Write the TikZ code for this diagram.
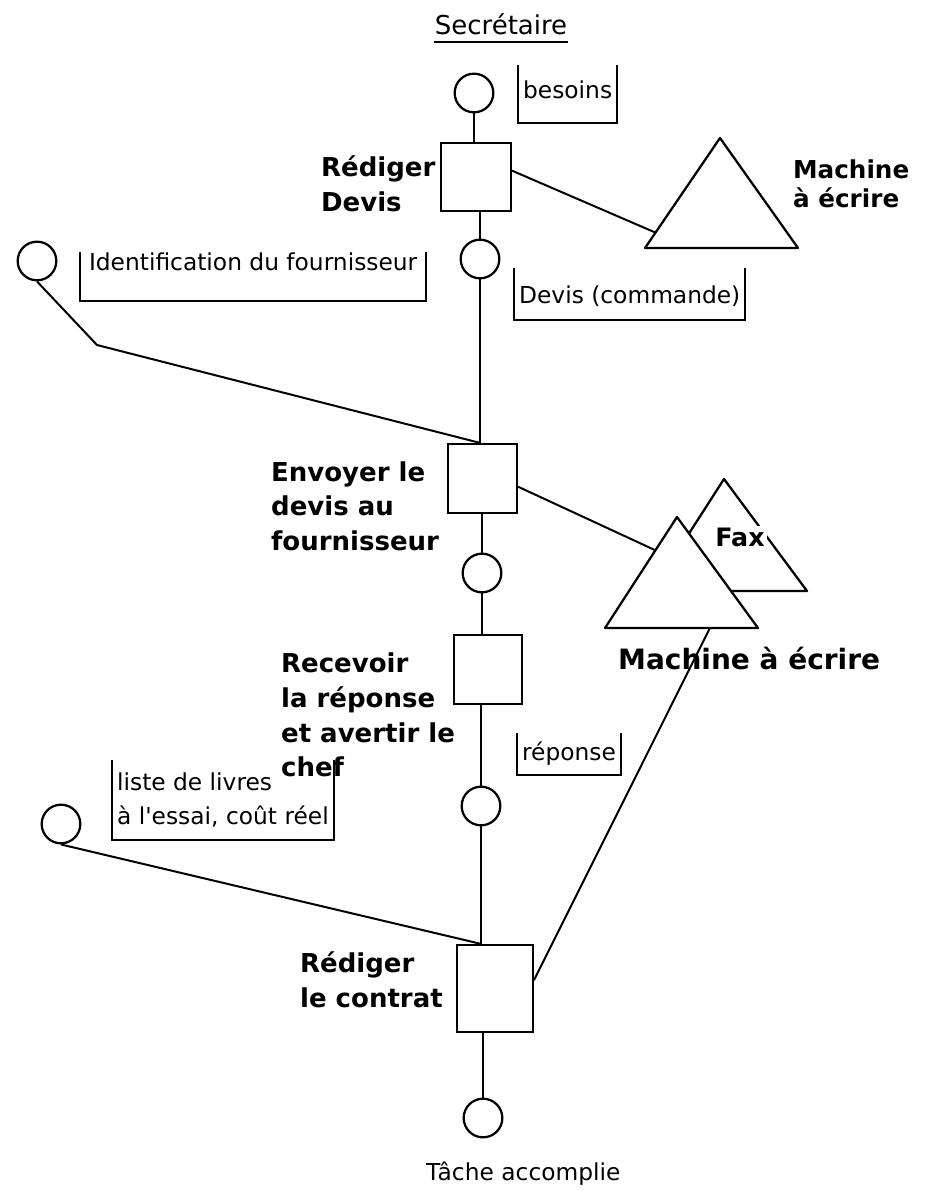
\documentclass[tikz,border=0pt]{standalone}
\usepackage{fontspec}
\setmainfont{DejaVu Sans}
\usetikzlibrary{calc}

\begin{document}
\begin{tikzpicture}[x=0.75pt, y=-0.75pt, line width=1.7pt,
  place/.style={circle, draw, minimum size=29pt, inner sep=0pt},
  task/.style={rectangle, draw, inner sep=0pt},
  tasklbl/.style={font=\fontsize{19.5}{26}\selectfont\bfseries, align=left, anchor=west, inner sep=0pt},
  tag/.style={font=\fontsize{17.5}{25}\selectfont, anchor=north west, inner xsep=3pt, inner ysep=0pt},
  link/.style={line width=1.5pt},
  tri/.style={line width=1.7pt, line join=round},
]
\useasboundingbox (0,0) rectangle (928,1191);

% title
\node[font=\fontsize{19.5}{22}\selectfont, inner sep=0pt] (titre) at (501,24) {Secrétaire};
\draw[line width=1.4pt] ([yshift=-5pt]titre.south west) -- ([yshift=-5pt]titre.south east);

% main column: places and tasks
\node[place] (c1) at (474,93) {};
\node[task, minimum width=52.3pt, minimum height=50.7pt] (b1) at (476,177) {};
\node[place] (c2) at (480,259) {};
\node[task, minimum width=51.7pt, minimum height=51.7pt] (b2) at (482.5,478.5) {};
\node[place] (c3) at (482,573) {};
\node[task, minimum width=51.2pt, minimum height=51.7pt] (b3) at (488,669.5) {};
\node[place] (c4) at (481,806) {};
\node[task, minimum width=56.7pt, minimum height=65.2pt] (b4) at (495,988.5) {};
\node[place] (c5) at (483,1118) {};

\node[tasklbl] (l1) at (320,184) {Rédiger\\Devis};
\node[tasklbl] (l2) at (270,506) {Envoyer le\\devis au\\fournisseur};
\node[tasklbl] (l3) at (280,715) {Recevoir\\la réponse\\et avertir le\\chef};
\node[tasklbl] (l4) at (299,980) {Rédiger\\le contrat};
\node[font=\fontsize{17.5}{20}\selectfont, anchor=west, inner sep=0pt] (fin) at (425,1174) {Tâche accomplie};

\foreach \c/\b in {c1/b1,c2/b2,c3/b3,c4/b4}
  \draw[link] (\c) -- (\c |- \b.north);
\foreach \b/\c in {b1/c2,b2/c3,b3/c4,b4/c5}
  \draw[link] (\c |- \b.south) -- (\c);

% data tags
\node[tag, text height=24pt, text depth=18pt] (tbes) at (518,65) {besoins};
\node[tag, text height=13pt, text depth=21.75pt, minimum width=258pt] (tid) at (80,252) {Identification du fournisseur};
\node[tag, text height=25.5pt, text depth=12pt] (tdev) at (514,268) {Devis (commande)};
\node[tag, text height=20pt, text depth=9.75pt] (trep) at (517,733) {réponse};
\node[tag, align=left, inner ysep=9pt] (tliv) at (112,760) {liste de livres\\à l\textquotesingle essai, coût réel};

\foreach \n in {tbes,tid,tdev,trep,tliv}
  \draw[link] (\n.north west) |- (\n.south east) -- (\n.north east);

% outside places
\node[place] (e1) at (37,261) {};
\node[place] (e2) at (61,824) {};
\coordinate (k1) at (97,345);

% resources
\draw[tri] (645,248) coordinate (ma1) -- (720,138) coordinate (ma2) -- (798,248) coordinate (ma3) -- cycle;
\draw[tri] (652,591) coordinate (fx1) -- (724,479) coordinate (fx2) -- (807,591) coordinate (fx3) -- cycle;
\draw[tri, fill=white] (605,628) coordinate (mb1) -- (677,517) coordinate (mb2) -- (758,628) coordinate (mb3) -- cycle;
\coordinate (pa) at ($(ma1)!0.14!(ma2)$);
\coordinate (pb) at ($(mb1)!0.70!(mb2)$);
\coordinate (pc) at ($(mb1)!0.686!(mb3)$);

\node[font=\fontsize{18.5}{22}\selectfont\bfseries, align=left, anchor=west, inner sep=0pt] (ma) at (792,184) {Machine\\à écrire};
\node[font=\fontsize{19}{22}\selectfont\bfseries, fill=white, inner sep=1.5pt] (fax) at (740,537) {Fax};
\node[font=\fontsize{21}{24}\selectfont\bfseries, anchor=west, inner sep=0pt] (mb) at (617,658) {Machine à écrire};

% links
\draw[link] (b1.10) -- (pa);
\draw[link] (b2.-13) -- (pb);
\draw[link] (b4.12) -- (pc);
\draw[link] (e1.south) -- (k1) -- (c2 |- b2.north);
\draw[link] (e2.south) -- (c4 |- b4.north);

\end{tikzpicture}
\end{document}
